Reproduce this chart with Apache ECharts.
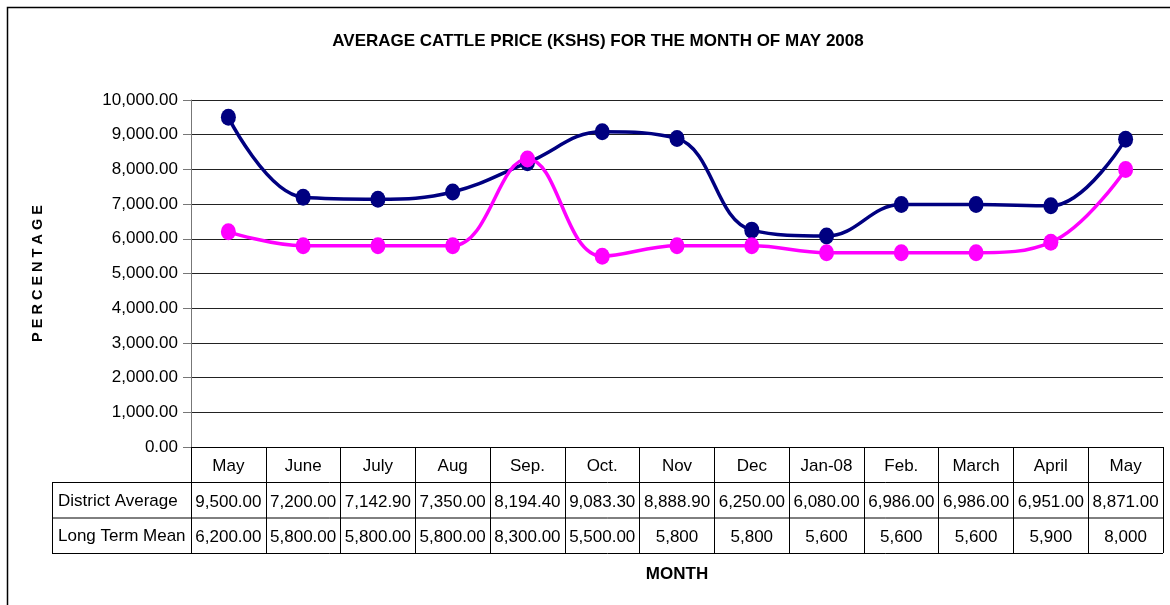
<!DOCTYPE html>
<html>
<head>
<meta charset="utf-8">
<script src="https://cdn.jsdelivr.net/npm/echarts@6/dist/echarts.min.js"></script>
<style>html,body{margin:0;padding:0;background:#fff;}#c{width:1170px;height:605px;}</style>
</head>
<body>
<div id="c"></div>
<script>
const months = ['May','June','July','Aug','Sep.','Oct.','Nov','Dec','Jan-08','Feb.','March','April','May'];
const districtAverage = [9500, 7200, 7142.9, 7350, 8194.4, 9083.3, 8888.9, 6250, 6080, 6986, 6986, 6951, 8871];
const longTermMean = [6200, 5800, 5800, 5800, 8300, 5500, 5800, 5800, 5600, 5600, 5600, 5900, 8000];
const districtLabels = ['9,500.00','7,200.00','7,142.90','7,350.00','8,194.40','9,083.30','8,888.90','6,250.00','6,080.00','6,986.00','6,986.00','6,951.00','8,871.00'];
const longTermLabels = ['6,200.00','5,800.00','5,800.00','5,800.00','8,300.00','5,500.00','5,800','5,800','5,600','5,600','5,600','5,900','8,000'];
const rowNames = ['District Average', 'Long Term Mean'];

const FONT = 'Liberation Sans, Arial, sans-serif';
const chart = echarts.init(document.getElementById('c'), null, {renderer: 'canvas'});

const gridL = 191, gridR = 1163, gridT = 100, gridB = 447;
const rowH = 35.5;

function tableAxis(data, offset) {
  return {
    type: 'category', data: data, position: 'bottom', offset: offset,
    boundaryGap: true,
    axisLine: {show: false}, axisTick: {show: false}, splitLine: {show: false},
    axisLabel: {interval: 0, color: '#000', fontSize: 17, fontFamily: FONT, margin: 11}
  };
}

const option = {
  animation: false,
  backgroundColor: '#fff',
  title: {
    text: 'AVERAGE CATTLE PRICE (KSHS) FOR THE MONTH OF MAY 2008',
    left: 593, top: 28, textAlign: 'center',
    textStyle: {fontFamily: FONT, fontSize: 17, fontWeight: 'bold', color: '#000'}
  },
  grid: {left: gridL, right: 1170 - gridR, top: gridT, bottom: 605 - gridB, containLabel: false},
  xAxis: [
    {
      type: 'category', data: months, position: 'bottom', boundaryGap: true,
      axisLine: {show: true, lineStyle: {color: '#000', width: 1}},
      axisTick: {show: true, interval: 0, length: 106, lineStyle: {color: '#000', width: 1}},
      axisLabel: {interval: 0, color: '#000', fontSize: 17, fontFamily: FONT, margin: 11},
      splitLine: {show: false}
    },
    tableAxis(districtLabels, 36),
    Object.assign(tableAxis(longTermLabels, 71), {
      name: 'MONTH', nameLocation: 'middle', nameGap: 48,
      nameTextStyle: {fontFamily: FONT, fontSize: 17, fontWeight: 'bold', color: '#000'}
    })
  ],
  yAxis: {
    type: 'value', min: 0, max: 10000, interval: 1000,
    name: 'P E R C E N T A G E', nameLocation: 'middle', nameRotate: 90, nameGap: 146,
    nameTextStyle: {fontFamily: FONT, fontSize: 14.5, fontWeight: 'bold', color: '#000'},
    axisLine: {show: true, lineStyle: {color: '#777', width: 1}},
    axisTick: {show: true, length: 8, lineStyle: {color: '#777'}},
    axisLabel: {
      color: '#000', fontSize: 17, fontFamily: FONT, margin: 13,
      formatter: v => v.toLocaleString('en-US', {minimumFractionDigits: 2, maximumFractionDigits: 2})
    },
    splitLine: {show: true, lineStyle: {color: '#222', width: 1}}
  },
  series: [
    {
      name: 'District Average', type: 'line', data: districtAverage, smooth: 0.4,
      symbol: 'circle', symbolSize: [15, 17],
      lineStyle: {color: '#000080', width: 3.5},
      itemStyle: {color: '#000080'}, z: 3
    },
    {
      name: 'Long Term Mean', type: 'line', data: longTermMean, smooth: 0.4,
      symbol: 'circle', symbolSize: [15, 17],
      lineStyle: {color: '#FF00FF', width: 3.5},
      itemStyle: {color: '#FF00FF'}, z: 4
    }
  ],
  graphic: [
    {type: 'rect', shape: {x: 7.5, y: 7.5, width: 1300, height: 800}, style: {fill: null, stroke: '#000', lineWidth: 1.5}, silent: true},
    {type: 'line', shape: {x1: 52, y1: gridB + rowH, x2: gridR, y2: gridB + rowH}, style: {stroke: '#000', lineWidth: 1}},
    {type: 'line', shape: {x1: 52, y1: gridB + 2 * rowH, x2: gridR, y2: gridB + 2 * rowH}, style: {stroke: '#000', lineWidth: 1}},
    {type: 'line', shape: {x1: 52, y1: gridB + 3 * rowH, x2: gridR, y2: gridB + 3 * rowH}, style: {stroke: '#000', lineWidth: 1}},
    {type: 'line', shape: {x1: 52.5, y1: gridB + rowH, x2: 52.5, y2: gridB + 3 * rowH}, style: {stroke: '#000', lineWidth: 1}},
    {type: 'text', left: 58, top: gridB + rowH + 10, style: {text: rowNames[0], font: '17px ' + FONT, fill: '#000'}},
    {type: 'text', left: 58, top: gridB + 2 * rowH + 10, style: {text: rowNames[1], font: '17px ' + FONT, fill: '#000'}}
  ]
};
chart.setOption(option);
</script>
</body>
</html>
